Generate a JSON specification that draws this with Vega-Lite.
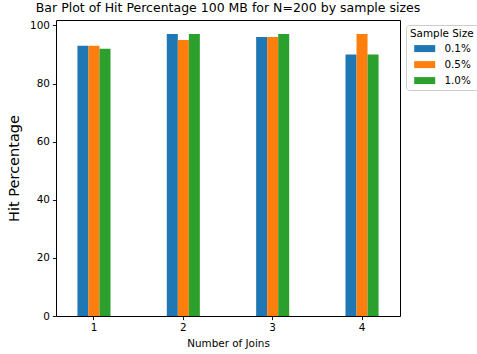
{
  "$schema": "https://vega.github.io/schema/vega-lite/v6.json",
  "width": 344,
  "height": 296,
  "autosize": {"type": "none"},
  "padding": {"left": 56, "top": 20, "right": 77, "bottom": 38},
  "background": "white",
  "title": {
    "text": "Bar Plot of Hit Percentage 100 MB for N=200 by sample sizes",
    "anchor": "middle",
    "font": "DejaVu Sans",
    "fontSize": 12.5,
    "fontWeight": "normal",
    "color": "black",
    "offset": 6
  },
  "data": {
    "values": [
      {"joins": "1", "sample": "0.1%", "hit": 93},
      {"joins": "1", "sample": "0.5%", "hit": 93},
      {"joins": "1", "sample": "1.0%", "hit": 92},
      {"joins": "2", "sample": "0.1%", "hit": 97},
      {"joins": "2", "sample": "0.5%", "hit": 95},
      {"joins": "2", "sample": "1.0%", "hit": 97},
      {"joins": "3", "sample": "0.1%", "hit": 96},
      {"joins": "3", "sample": "0.5%", "hit": 96},
      {"joins": "3", "sample": "1.0%", "hit": 97},
      {"joins": "4", "sample": "0.1%", "hit": 90},
      {"joins": "4", "sample": "0.5%", "hit": 97},
      {"joins": "4", "sample": "1.0%", "hit": 90}
    ]
  },
  "mark": {"type": "bar"},
  "encoding": {
    "x": {
      "field": "joins",
      "type": "ordinal",
      "scale": {"paddingInner": 0.63, "paddingOuter": 0.24},
      "axis": {"title": "Number of Joins", "labelAngle": 0, "titlePadding": 5}
    },
    "xOffset": {"field": "sample", "type": "nominal", "scale": {"padding": 0}},
    "y": {
      "field": "hit",
      "type": "quantitative",
      "scale": {"domain": [0, 101.85], "nice": false, "zero": true},
      "axis": {"title": "Hit Percentage", "values": [0, 20, 40, 60, 80, 100], "titleFontSize": 14.5, "titlePadding": 8}
    },
    "color": {
      "field": "sample",
      "type": "nominal",
      "scale": {"domain": ["0.1%", "0.5%", "1.0%"], "range": ["#1f77b4", "#ff7f0e", "#2ca02c"]},
      "legend": {"title": "Sample Size"}
    }
  },
  "config": {
    "font": "DejaVu Sans",
    "view": {"stroke": "black", "strokeWidth": 1},
    "axis": {
      "grid": false,
      "domain": false,
      "tickColor": "black",
      "tickSize": 3.6,
      "tickWidth": 0.9,
      "labelFont": "DejaVu Sans",
      "labelFontSize": 10.4,
      "labelColor": "black",
      "labelPadding": 3,
      "titleFont": "DejaVu Sans",
      "titleFontSize": 10.4,
      "titleFontWeight": "normal",
      "titleColor": "black"
    },
    "legend": {
      "orient": "none",
      "legendX": 350,
      "legendY": 5,
      "strokeColor": "#cccccc",
      "fillColor": "white",
      "cornerRadius": 3,
      "padding": 4,
      "titleFont": "DejaVu Sans",
      "titleFontSize": 10.4,
      "titleFontWeight": "normal",
      "titleColor": "black",
      "titlePadding": 4,
      "labelFont": "DejaVu Sans",
      "labelFontSize": 10.4,
      "labelColor": "black",
      "labelOffset": 14.5,
      "symbolOffset": 9.5,
      "symbolType": "M-2.1,-0.7H2.1V0.7H-2.1Z",
      "symbolSize": 100,
      "symbolStrokeWidth": 0,
      "symbolOpacity": 1,
      "rowPadding": 5
    }
  }
}
